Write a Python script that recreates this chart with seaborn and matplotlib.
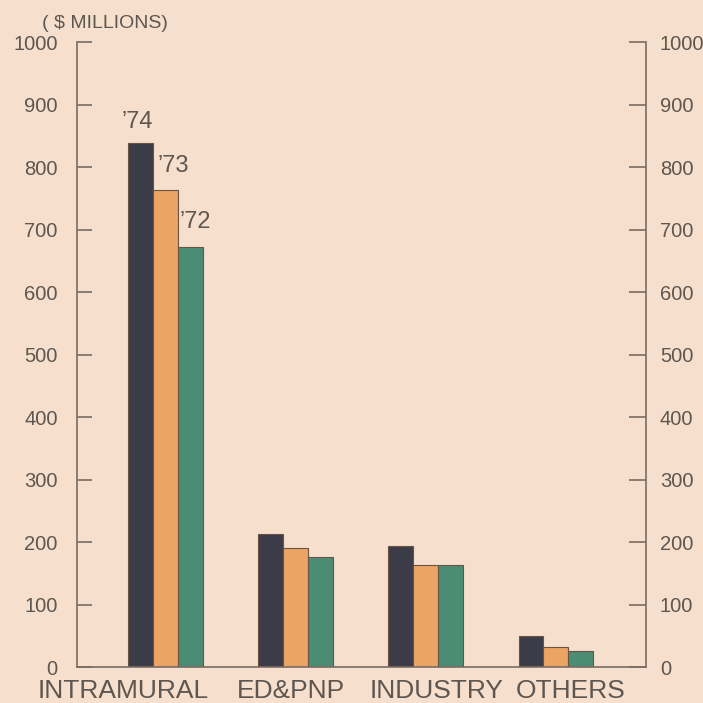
import pandas as pd
import matplotlib
matplotlib.use("Agg")
import matplotlib.pyplot as plt
import matplotlib.transforms as mtransforms
import seaborn as sns

# data ($ millions)
categories = ["INTRAMURAL", "ED&PNP", "INDUSTRY", "OTHERS"]
years = ["’74", "’73", "’72"]
vals_74 = [838, 213, 194, 50]
vals_73 = [763, 190, 163, 32]
vals_72 = [672, 176, 163, 26]
yticks = [0, 100, 200, 300, 400, 500, 600, 700, 800, 900, 1000]

BG = "#f6dfcc"
INK = "#5e5650"
AXC = "#7a6c63"
colors = ["#3b3c48", "#eba463", "#4b8c74"]

rows = []
for yr, vals in zip(years, [vals_74, vals_73, vals_72]):
    for cat, v in zip(categories, vals):
        rows.append({"cat": cat, "year": yr, "value": v})
df = pd.DataFrame(rows)

sns.set_theme(style="ticks")
plt.rcParams["font.family"] = ["Liberation Sans", "DejaVu Sans"]

fig = plt.figure(figsize=(7.03, 7.03), dpi=100, facecolor=BG)
ax = fig.add_axes([0.1095, 0.0512, 0.8095, 0.889])
ax.set_facecolor(BG)

sns.barplot(data=df, x="cat", y="value", hue="year", hue_order=years,
            order=categories, palette=colors, width=0.57, saturation=1,
            edgecolor="#6a5245", linewidth=0.8, legend=False, ax=ax)

ax.set_xlim(-0.681, 3.696)
ax.set_ylim(0, 1000)
ax.set_yticks(yticks)
ax.set_xticks([])
ax.set_xlabel("")
ax.set_ylabel("")

for side in ["left", "right", "bottom"]:
    ax.spines[side].set_color(AXC)
    ax.spines[side].set_linewidth(1.2)
ax.spines["top"].set_visible(False)

ax.tick_params(axis="y", which="both", direction="in", length=11, width=1.2,
               color=AXC, labelcolor=INK, labelsize=14.5, pad=14,
               left=True, right=True, labelleft=True, labelright=True)
# right-hand ticks a bit longer, labels a bit closer to the spine
offset = mtransforms.ScaledTranslation(-4 / 72, 0, fig.dpi_scale_trans)
for t in ax.yaxis.get_major_ticks():
    t.tick2line.set_markersize(12)
    t.label2.set_transform(t.label2.get_transform() + offset)

# year labels above the INTRAMURAL group
offsets = [(0, 15, "right"), (4, 18, "left"), (2, 19, "left")]
for cont, yr, (dx, dy, ha) in zip(ax.containers, years, offsets):
    bar = cont.patches[0]
    xpos = bar.get_x() + bar.get_width() if ha == "right" else bar.get_x()
    ax.annotate(yr, xy=(xpos, bar.get_height()), xytext=(dx, dy),
                textcoords="offset pixels", ha=ha, va="baseline",
                fontsize=17, color=INK)

# category labels under the axis
label_x = [-0.327, 0.965, 2.088, 3.112]
trans = mtransforms.blended_transform_factory(ax.transData, ax.transAxes)
for cat, lx in zip(categories, label_x):
    ax.text(lx, -0.049, cat, transform=trans, ha="center", va="baseline",
            fontsize=19, color=INK)

ax.text(-0.0615, 1.022, "( $ MILLIONS)", transform=ax.transAxes,
        ha="left", va="baseline", fontsize=14, color=INK)

fig.savefig("out.png", dpi=100, facecolor=BG)
